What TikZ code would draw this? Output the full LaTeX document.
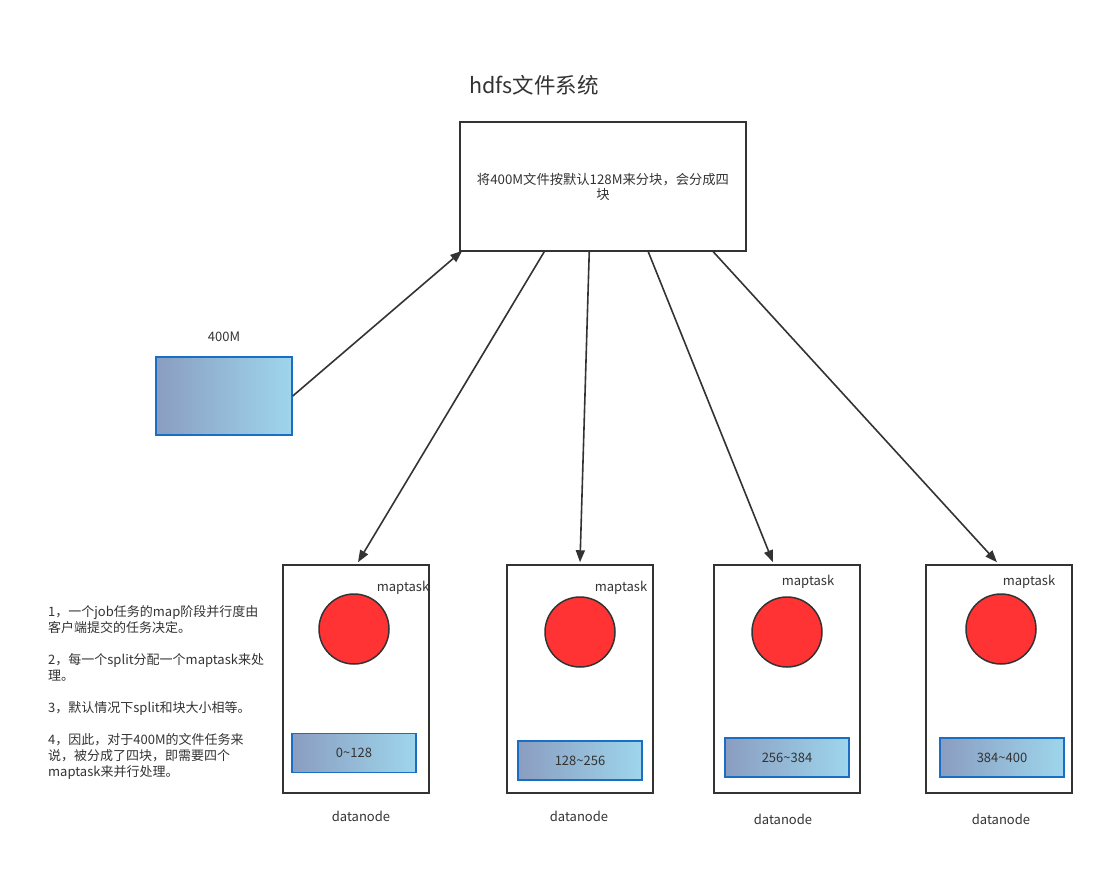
\documentclass[tikz,border=0pt]{standalone}
\usepackage{fontspec}
\setmainfont{Noto Sans CJK SC}
\usetikzlibrary{arrows.meta}
\definecolor{ln}{HTML}{333333}
\definecolor{txt}{HTML}{333333}
\definecolor{gl}{HTML}{8A9DC0}
\definecolor{gr}{HTML}{9ED6EC}
\definecolor{gb}{HTML}{1A6FC4}
\definecolor{red}{HTML}{FF3333}
\tikzset{
  box/.style={draw=ln, line width=1.5pt, fill=white, inner sep=0pt},
  blk/.style={draw=gb, line width=1.5pt, left color=gl, right color=gr, inner sep=0pt, text=txt, font=\fontsize{13}{15}\selectfont},
  task/.style={circle, draw=ln, line width=1.5pt, fill=red, minimum size=70pt, inner sep=0pt},
  lbl/.style={text=txt, font=\fontsize{13}{15}\selectfont, inner sep=0pt},
  arr/.style={draw=ln, line width=1.6pt, -{Triangle[length=12pt,width=9pt]}},
}
\begin{document}
\begin{tikzpicture}[x=1pt,y=-1pt]
\useasboundingbox[fill=white] (0,0) rectangle (1114,889);

\node[lbl, font=\fontsize{21.5}{25}\selectfont] (title) at (534,85) {hdfs文件系统};
\node[box, minimum width=286pt, minimum height=129pt, align=center, text=txt, font=\fontsize{13.3}{15}\selectfont] (top) at (603,186.5) {将400M文件按默认128M来分块，会分成四\\块};

\node[lbl] (sz) at (224,337) {400M};
\node[blk, minimum width=136pt, minimum height=78pt] (file) at (224,396) {};

% datanodes
\node[box, minimum width=146pt, minimum height=228pt] (dn1) at (356,679) {};
\node[box, minimum width=146pt, minimum height=228pt] (dn2) at (580,679) {};
\node[box, minimum width=146pt, minimum height=228pt] (dn3) at (787,679) {};
\node[box, minimum width=146pt, minimum height=228pt] (dn4) at (999,679) {};

\node[task] (c1) at (354,629) {};
\node[task] (c2) at (580,632) {};
\node[task] (c3) at (787,632) {};
\node[task] (c4) at (1001,629) {};

\node[lbl] (m1) at (403,588) {maptask};
\node[lbl] (m2) at (621,588) {maptask};
\node[lbl] (m3) at (808,582) {maptask};
\node[lbl] (m4) at (1029,582) {maptask};

\node[blk, minimum width=124pt, minimum height=39pt] (b1) at (354,753) {0\textasciitilde128};
\node[blk, minimum width=124pt, minimum height=39pt] (b2) at (580,760.5) {128\textasciitilde256};
\node[blk, minimum width=124pt, minimum height=39pt] (b3) at (787,757.5) {256\textasciitilde384};
\node[blk, minimum width=124pt, minimum height=39pt] (b4) at (1002,757.5) {384\textasciitilde400};

\node[lbl] (d1) at (361,816) {datanode};
\node[lbl] (d2) at (579,816) {datanode};
\node[lbl] (d3) at (783,819) {datanode};
\node[lbl] (d4) at (1001,819) {datanode};

\node[lbl, anchor=north west, align=left, font=\fontsize{13}{16}\selectfont] (notes) at (48,605) {1，一个job任务的map阶段并行度由\\客户端提交的任务决定。\\[16pt]2，每一个split分配一个maptask来处\\理。\\[16pt]3，默认情况下split和块大小相等。\\[16pt]4，因此，对于400M的文件任务来\\说，被分成了四块，即需要四个\\maptask来并行处理。};

% connectors
\draw[arr] (file.east) -- ([xshift=3pt,yshift=1pt]top.south west);
\draw[arr] ([xshift=85pt]top.south west) -- ([xshift=2pt,yshift=2pt]dn1.north);
\draw[arr] ([xshift=130pt]top.south west) -- ([yshift=2pt]dn2.north);
\draw[arr] ([xshift=189pt]top.south west) -- ([xshift=-14pt,yshift=2pt]dn3.north);
\draw[arr] ([xshift=254pt]top.south west) -- ([xshift=-2pt,yshift=2pt]dn4.north);
\end{tikzpicture}
\end{document}
